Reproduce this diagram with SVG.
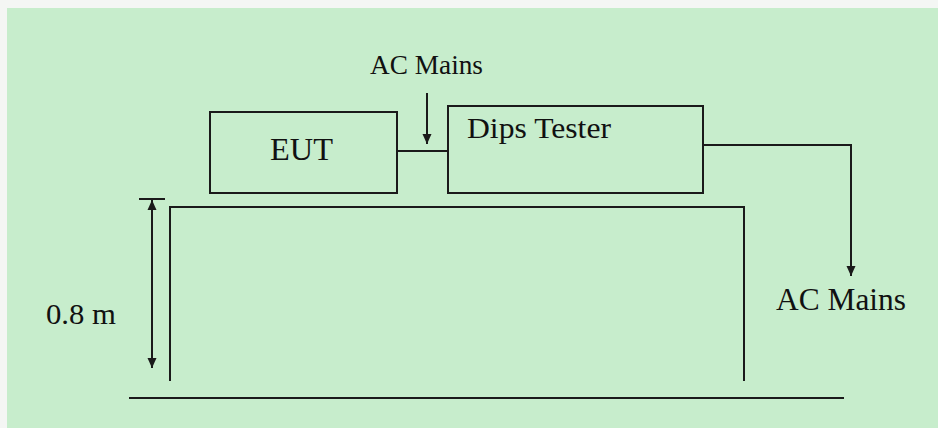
<svg xmlns="http://www.w3.org/2000/svg" width="938" height="428" viewBox="0 0 938 428">
<style>
.ln{fill:none;stroke:#1a1a1a;stroke-width:2}
.bx{fill:none;stroke:#1a1a1a;stroke-width:2}
.t{font-family:'Liberation Serif','Times New Roman','DejaVu Serif',serif;fill:#111}
</style>
<defs>
<marker id="ah" viewBox="0 0 10 10" refX="10" refY="5" markerWidth="10" markerHeight="10" markerUnits="userSpaceOnUse" orient="auto-start-reverse">
<path d="M0,0.5 L10,5 L0,9.5 z" fill="#1a1a1a"/>
</marker>
</defs>
<rect x="0" y="0" width="938" height="428" fill="#f4f6f4"/>
<rect x="7" y="8" width="931" height="420" fill="#c7edcc"/>
<g id="table">
<path class="ln" d="M170,381 V207 H744 V381"/>
</g>
<g id="ground">
<line class="ln" x1="129" y1="398" x2="844" y2="398"/>
</g>
<g id="eut">
<rect class="bx" x="210" y="112" width="187" height="81"/>
<text class="t" x="270" y="160" font-size="32" textLength="63" lengthAdjust="spacingAndGlyphs">EUT</text>
</g>
<g id="dips-tester">
<rect class="bx" x="448" y="106" width="255" height="87"/>
<text class="t" x="467" y="138" font-size="30" textLength="144" lengthAdjust="spacingAndGlyphs">Dips Tester</text>
</g>
<g id="ac-mains-in">
<text class="t" x="370" y="74" font-size="27" textLength="113" lengthAdjust="spacingAndGlyphs">AC Mains</text>
</g>
<g id="ac-mains-out">
<text class="t" x="776" y="310" font-size="31" textLength="130" lengthAdjust="spacingAndGlyphs">AC Mains</text>
</g>
<g id="height-label">
<text class="t" x="46" y="324" font-size="30" textLength="70" lengthAdjust="spacingAndGlyphs">0.8 m</text>
</g>
<g id="connectors">
<line class="ln" x1="397" y1="151" x2="448" y2="151"/>
<line class="ln" x1="427" y1="93" x2="427" y2="144" marker-end="url(#ah)"/>
<path class="ln" d="M703,145 H851 V276" marker-end="url(#ah)"/>
<line class="ln" x1="139" y1="199" x2="165" y2="199"/>
<line class="ln" x1="152" y1="200" x2="152" y2="368" marker-start="url(#ah)" marker-end="url(#ah)"/>
</g>
</svg>
